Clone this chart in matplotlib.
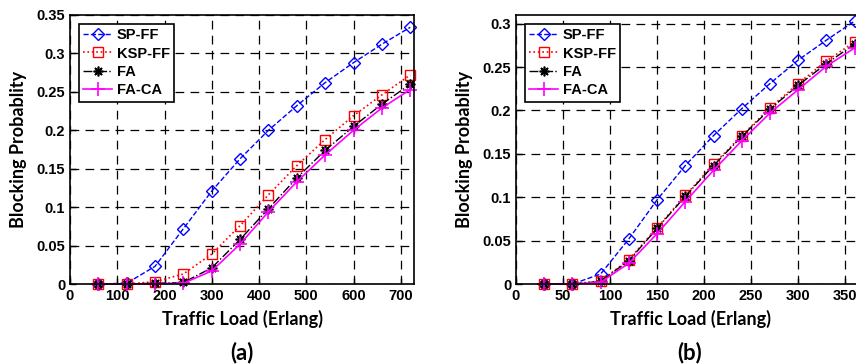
import matplotlib
matplotlib.use('Agg')
import matplotlib.pyplot as plt

# (a)
load_a = [60, 120, 180, 240, 300, 360, 420, 480, 540, 600, 660, 720]
spff_a = [0, 0.001, 0.023, 0.072, 0.121, 0.163, 0.200, 0.232, 0.262, 0.288, 0.312, 0.334]
kspff_a = [0, 0, 0.003, 0.013, 0.039, 0.076, 0.116, 0.154, 0.188, 0.219, 0.246, 0.272]
fa_a = [0, 0, 0.001, 0.002, 0.021, 0.058, 0.098, 0.138, 0.174, 0.205, 0.234, 0.260]
faca_a = [0, 0, 0.0005, 0.001, 0.017, 0.052, 0.094, 0.133, 0.168, 0.200, 0.229, 0.253]

# (b)
load_b = [30, 60, 90, 120, 150, 180, 210, 240, 270, 300, 330, 360]
spff_b = [0, 0, 0.0115, 0.052, 0.097, 0.1365, 0.171, 0.202, 0.231, 0.258, 0.281, 0.303]
kspff_b = [0, 0, 0.0035, 0.028, 0.065, 0.102, 0.138, 0.171, 0.203, 0.231, 0.257, 0.279]
fa_b = [0, 0, 0.003, 0.027, 0.064, 0.101, 0.1365, 0.170, 0.2015, 0.229, 0.254, 0.2765]
faca_b = [0, 0, 0.002, 0.024, 0.058, 0.095, 0.131, 0.165, 0.197, 0.224, 0.251, 0.272]

names = ['SP-FF', 'KSP-FF', 'FA', 'FA-CA']

plt.rcParams['font.family'] = ['Liberation Sans', 'DejaVu Sans']
plt.rcParams['font.weight'] = 'bold'

fig = plt.figure(figsize=(8.56, 3.64), dpi=100)
ax1 = fig.add_axes([70/856, 80/364, 344/856, 269/364])
ax2 = fig.add_axes([516/856, 80/364, 348/856, 269/364])


def draw(ax, x, series, xlim, ylim, xticks, yticks, ytl, tag):
    sp, ksp, fa, faca = series
    ax.plot(x, sp, '--', color='blue', marker='D', mfc='none', ms=6, lw=1, label=names[0], clip_on=False)
    ax.plot(x, ksp, ':', color='red', marker='s', mfc='none', ms=7, lw=1.2, label=names[1], clip_on=False)
    ax.plot(x, fa, '-.', color='black', marker=(8, 2, 0), ms=7, mew=1.2, lw=1, label=names[2], clip_on=False)
    ax.plot(x, faca, '-', color='magenta', marker='+', ms=10, mew=1.2, lw=1.2, label=names[3], clip_on=False)
    ax.set_xlim(*xlim)
    ax.set_ylim(*ylim)
    ax.set_xticks(xticks)
    ax.set_yticks(yticks)
    ax.set_yticklabels(ytl)
    ax.grid(True, color='black', ls=(0, (7, 5)), lw=0.9)
    ax.tick_params(direction='in', labelsize=10.5, width=1, length=4)
    for s in ax.spines.values():
        s.set_linewidth(1.2)
    ax.set_xlabel('Traffic Load (Erlang)', fontsize=13, fontfamily='Lato', fontweight='bold', labelpad=5)
    ax.set_ylabel('Blocking Probablity', fontsize=13, fontfamily='Lato', fontweight='bold', labelpad=7)
    leg = ax.legend(loc='upper left', fontsize=10.5, fancybox=False, edgecolor='black',
                    framealpha=1, handlelength=2.0, handletextpad=0.3, borderpad=0.3,
                    labelspacing=0.3, borderaxespad=0.6)
    leg.get_frame().set_linewidth(1.2)
    ax.text(0.5, -0.255, tag, transform=ax.transAxes, ha='center', va='center',
            fontsize=16, fontfamily='Lato', fontweight='bold')


draw(ax1, load_a, [spff_a, kspff_a, fa_a, faca_a], (0, 728), (0, 0.35),
     range(0, 701, 100), [0, 0.05, 0.1, 0.15, 0.2, 0.25, 0.3, 0.35],
     ['0', '0.05', '0.1', '0.15', '0.2', '0.25', '0.3', '0.35'], '(a)')
draw(ax2, load_b, [spff_b, kspff_b, fa_b, faca_b], (0, 370), (0, 0.31),
     range(0, 351, 50), [0, 0.05, 0.1, 0.15, 0.2, 0.25, 0.3],
     ['0', '0.05', '0.1', '0.15', '0.2', '0.25', '0.3'], '(b)')

fig.savefig('out.png', dpi=100)
